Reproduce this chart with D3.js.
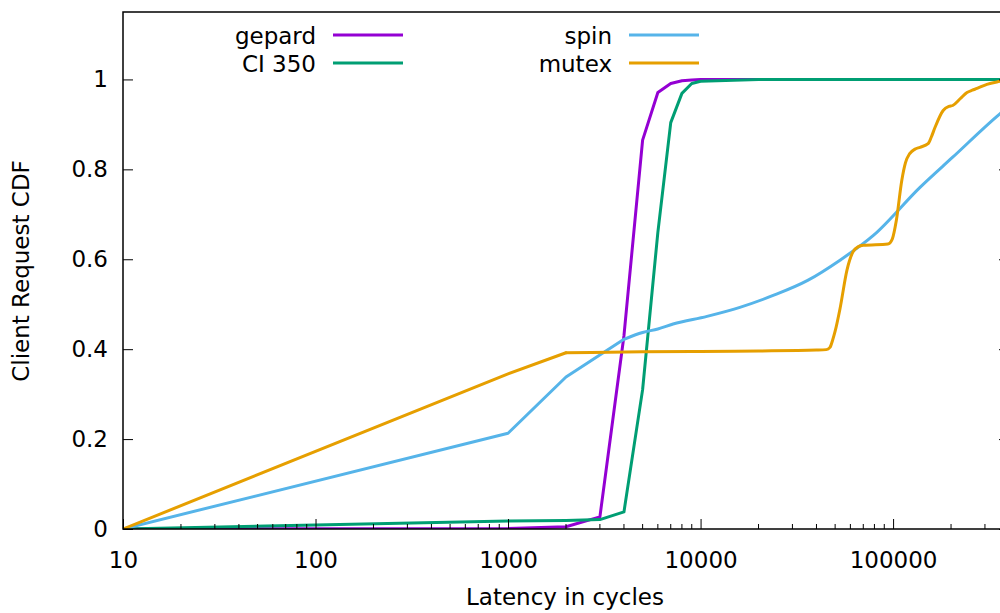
<!DOCTYPE html>
<html>
<head>
<meta charset="utf-8">
<script src="https://cdn.jsdelivr.net/npm/d3@7"></script>
<style>
  body { margin: 0; background: #fff; }
  svg { display: block; font-family: 'DejaVu Sans', sans-serif; }
</style>
</head>
<body>
<script>
// latency values (cycles) and CDF values for each series
const gepardX = [10, 1000, 2000, 3000, 4000, 5000, 6000, 7000, 8000, 9000, 10000, 400000]
const gepardY = [0, 0.001, 0.005, 0.027, 0.43, 0.865, 0.971, 0.991, 0.997, 0.999, 1, 1]

const ciX = [10, 100, 1000, 2000, 3000, 4000, 5000, 6000, 7000, 8000, 9000, 10000, 20000, 400000]
const ciY = [0, 0.009, 0.018, 0.019, 0.021, 0.038, 0.31, 0.66, 0.904, 0.969, 0.991, 0.996, 1, 1]

const spinX = [10, 1000, 2000, 4000, 5000, 6000, 7200, 10800, 16000, 24000, 36000, 53000, 79000, 138000, 204000, 360000, 400000]
const spinY = [0, 0.213, 0.338, 0.422, 0.437, 0.445, 0.456, 0.473, 0.493, 0.52, 0.553, 0.598, 0.653, 0.76, 0.827, 0.924, 0.94]

const mutexX = [10, 1000, 2000, 5000, 10000, 20000, 40000, 45000, 47000, 48500, 50000, 53000, 57600, 61800, 66000, 70000,
    94000, 99000, 104000, 111000, 116000, 122000, 130000, 138000, 152000, 158000, 165000, 182000, 195000, 204000,
    223000, 242000, 258000, 273000, 307000, 360000, 400000]
const mutexY = [0, 0.345, 0.392, 0.394, 0.395, 0.396, 0.398, 0.399, 0.404, 0.42, 0.44, 0.49, 0.576, 0.616, 0.628, 0.631,
    0.634, 0.645, 0.687, 0.776, 0.815, 0.835, 0.845, 0.849, 0.857, 0.872, 0.893, 0.931, 0.94, 0.942,
    0.957, 0.971, 0.976, 0.98, 0.989, 0.996, 1]

const seriesNames = ['gepard', 'CI 350', 'spin', 'mutex']
const seriesColors = ['#9400d3', '#009e73', '#56b4e9', '#e69f00']
// index from which a series is drawn smoothed (-1 = straight segments only)
const smoothFrom = [-1, -1, 3, 2]

const xTickValues = [10, 100, 1000, 10000, 100000]
const yTickValues = [0, 0.2, 0.4, 0.6, 0.8, 1]

// size of svg and plot box
const w = 1000
const h = 613
const pLeft = 123
const pRight = 1009
const pTop = 12
const pBottom = 529
const fontSize = 23

const series = [
    gepardX.map((x, i) => [x, gepardY[i]]),
    ciX.map((x, i) => [x, ciY[i]]),
    spinX.map((x, i) => [x, spinY[i]]),
    mutexX.map((x, i) => [x, mutexY[i]])
]

// scales
const xScale = d3.scaleLog()
    .domain([10, 400000])
    .range([pLeft, pRight])

const yScale = d3.scaleLinear()
    .domain([0, 1.15])
    .range([pBottom, pTop])

const svg = d3.select('body')
    .append('svg')
    .attr('width', w)
    .attr('height', h)

svg.append('clipPath')
    .attr('id', 'plot-clip')
    .append('rect')
    .attr('x', pLeft)
    .attr('y', pTop)
    .attr('width', pRight - pLeft)
    .attr('height', pBottom - pTop)

// lines: straight part, then smooth part where the data is dense
const straight = d3.line()
    .x(d => xScale(d[0]))
    .y(d => yScale(d[1]))

const smooth = d3.line()
    .x(d => xScale(d[0]))
    .y(d => yScale(d[1]))
    .curve(d3.curveMonotoneX)

const plot = svg.append('g').attr('clip-path', 'url(#plot-clip)')

series.forEach((pts, i) => {
    const k = smoothFrom[i]
    const parts = k < 0 ? [[pts, straight]] : [[pts.slice(0, k + 1), straight], [pts.slice(k), smooth]]
    parts.forEach(([p, gen]) => {
        plot.append('path')
            .attr('d', gen(p))
            .attr('fill', 'none')
            .attr('stroke', seriesColors[i])
            .attr('stroke-width', 3)
            .attr('stroke-linejoin', 'round')
            .attr('stroke-linecap', 'round')
    })
})

// x axis, decades with minor ticks
const xAxis = d3.axisBottom(xScale)
    .tickValues(xTickValues)
    .tickFormat(d3.format('d'))
    .tickSizeInner(-10)
    .tickSizeOuter(0)
    .tickPadding(23)

const gx = svg.append('g')
    .attr('transform', `translate(0,${pBottom})`)
    .call(xAxis)

const minorTicks = []
xTickValues.forEach(d => {
    for (let m = 2; m <= 9; m++) {
        if (d * m <= 400000) minorTicks.push(d * m)
    }
})
gx.selectAll('.minor')
    .data(minorTicks)
    .enter()
    .append('line')
    .attr('x1', d => xScale(d))
    .attr('x2', d => xScale(d))
    .attr('y1', 0)
    .attr('y2', -5)
    .attr('stroke', '#000')

// y axis, left and mirrored on the right
const yAxis = d3.axisLeft(yScale)
    .tickValues(yTickValues)
    .tickFormat(d => d3.format('')(d))
    .tickSizeInner(-10)
    .tickSizeOuter(0)
    .tickPadding(15)

svg.append('g')
    .attr('transform', `translate(${pLeft},0)`)
    .call(yAxis)

svg.append('g')
    .attr('transform', `translate(${pRight},0)`)
    .call(d3.axisRight(yScale).tickValues(yTickValues).tickSizeInner(-10).tickSizeOuter(0).tickFormat(''))

svg.selectAll('.tick text')
    .attr('font-size', fontSize)
    .attr('font-family', 'DejaVu Sans')
    .attr('fill', '#000')
svg.selectAll('.domain').remove()
svg.selectAll('.tick line').attr('stroke', '#000')

// border box
svg.append('rect')
    .attr('x', pLeft)
    .attr('y', pTop)
    .attr('width', pRight - pLeft)
    .attr('height', pBottom - pTop)
    .attr('fill', 'none')
    .attr('stroke', '#000')
    .attr('stroke-width', 1.5)

// axis titles
svg.append('text')
    .attr('x', 565)
    .attr('y', 605)
    .attr('text-anchor', 'middle')
    .attr('font-size', fontSize)
    .text('Latency in cycles')

svg.append('text')
    .attr('transform', 'translate(29,271) rotate(-90)')
    .attr('text-anchor', 'middle')
    .attr('font-size', fontSize)
    .text('Client Request CDF')

// legend, two columns
const legendPos = [[316, 35], [316, 63], [612, 35], [612, 63]]
const legend = svg.append('g')
    .selectAll('g')
    .data(seriesNames)
    .enter()
    .append('g')
    .attr('transform', (d, i) => `translate(${legendPos[i][0]},${legendPos[i][1]})`)

legend.append('text')
    .attr('x', 0)
    .attr('y', 8.5)
    .attr('text-anchor', 'end')
    .attr('font-size', fontSize)
    .text(d => d)

legend.append('line')
    .attr('x1', 17)
    .attr('x2', 87)
    .attr('y1', 0)
    .attr('y2', 0)
    .attr('stroke', (d, i) => seriesColors[i])
    .attr('stroke-width', 3)
</script>
</body>
</html>
